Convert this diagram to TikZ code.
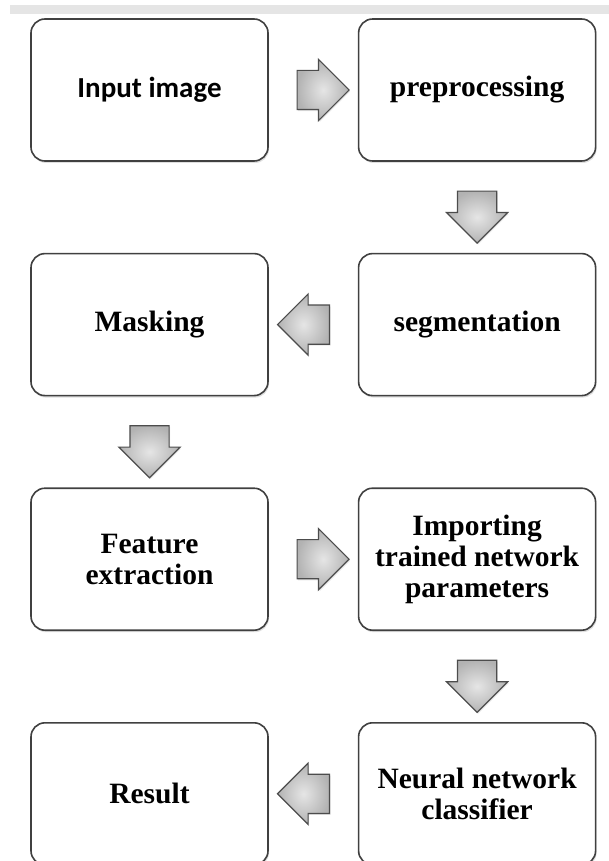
\documentclass[tikz,border=0pt]{standalone}
\usepackage{fontspec}
\setmainfont{Liberation Serif}
\newfontfamily\sansbold{Carlito}
\usetikzlibrary{positioning,shapes.arrows,shadows,calc}

\begin{document}
\begin{tikzpicture}[x=1pt, y=1pt, node distance=91pt and 89pt]

	\tikzstyle{stage}=[draw=black!75, line width=1.6pt, rounded corners=14pt,
	fill=white, minimum width=237pt, minimum height=142pt, align=center,
	font=\fontsize{29.5}{31}\selectfont\bfseries,
	drop shadow={opacity=0.25, shadow xshift=1pt, shadow yshift=-2pt}]
	\tikzstyle{flow}=[single arrow, draw=black!70, line width=1.2pt,
	inner color=gray!20, outer color=gray!60, minimum height=52pt,
	inner xsep=0pt, inner ysep=19pt, single arrow head extend=11pt,
	drop shadow={opacity=0.2, shadow xshift=1pt, shadow yshift=-1.5pt}]
	\tikzstyle{downflow}=[flow, shape border rotate=270,
	inner xsep=19pt, inner ysep=0pt]

	\useasboundingbox (0,0) rectangle (609,-861);
	% grey strip along the top
	\fill[black!10] (10,-5) rectangle (609,-14);

	% Stages, row by row
	\node[stage, font=\fontsize{29}{31}\sansbold\bfseries] (input) at (149.5,-90) {Input image};
	\node[stage, right=of input] (prep) {preprocessing};
	\node[stage, below=of prep] (seg) {segmentation};
	\node[stage, left=of seg] (mask) {Masking};
	\node[stage, below=of mask] (feat) {Feature\\extraction};
	\node[stage, right=of feat] (import) {Importing\\trained network\\parameters};
	\node[stage, below=of import] (nn) {Neural network\\classifier};
	\node[stage, left=of nn] (result) {Result};

	% Block arrows between stages
	\node[flow] (a1) at ($(input.east)!0.5!(prep.west)$) {};
	\node[downflow] (a2) at ($(prep.south)!0.5!(seg.north)$) {};
	\node[flow, shape border rotate=180] (a3) at ($(seg.west)!0.5!(mask.east)$) {};
	\node[downflow] (a4) at ($(mask.south)!0.5!(feat.north)$) {};
	\node[flow] (a5) at ($(feat.east)!0.5!(import.west)$) {};
	\node[downflow] (a6) at ($(import.south)!0.5!(nn.north)$) {};
	\node[flow, shape border rotate=180] (a7) at ($(nn.west)!0.5!(result.east)$) {};

\end{tikzpicture}
\end{document}
